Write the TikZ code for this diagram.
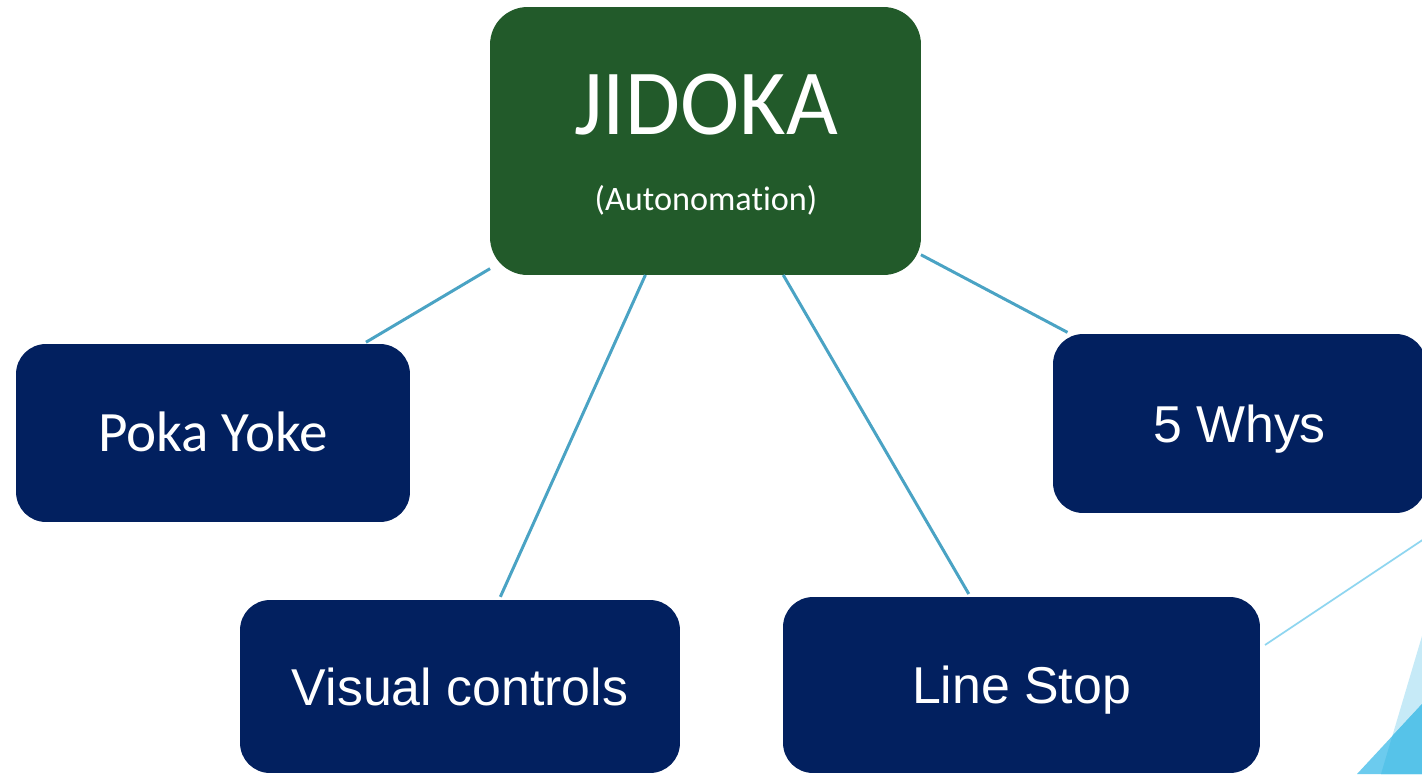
\documentclass[tikz,border=0pt]{standalone}
\usepackage{fontspec}
\setmainfont{Liberation Sans}
\newfontfamily\carlitofont[Ligatures=NoCommon]{Carlito}
\definecolor{jgreen}{HTML}{225A2A}
\definecolor{navyb}{HTML}{02205F}
\definecolor{connc}{HTML}{4AA3C4}
\definecolor{decoline}{HTML}{8FD6F0}
\definecolor{tripale}{HTML}{C6EAF7}
\definecolor{trimid}{HTML}{6CCBEE}
\definecolor{trideep}{HTML}{56C3E9}
\tikzset{
  boxnode/.style={rectangle, rounded corners=0.6cm, fill=navyb, inner sep=0pt, outer sep=0pt, text=white},
  mainbox/.style={rectangle, rounded corners=0.75cm, fill=jgreen, inner sep=0pt, outer sep=0pt},
  conn/.style={draw=connc, line width=1.7pt},
  armtext/.style={font=\fontsize{29.5}{32}\selectfont, text=white, text height=21.1pt, text depth=0pt},
}
\begin{document}
\begin{tikzpicture}[x=0.02cm,y=-0.02cm]
\useasboundingbox (0,0) rectangle (1422,774);
\fill[white] (0,0) rectangle (1422,774);
\clip (0,0) rectangle (1422,774);
% decorative background
\draw[decoline, line width=1pt] (1265,645) -- (1424,539);
\fill[tripale] (1422,636) -- (1381,774) -- (1422,774) -- cycle;
\fill[trimid] (1422,704) -- (1357,774) -- (1422,774) -- cycle;
\fill[trideep] (1392.3,736) -- (1381,774) -- (1422,774) -- (1422,704) -- cycle;
% boxes
\node[mainbox, minimum width=8.62cm, minimum height=5.36cm] (jidoka) at (705.5,141) {};
\node[anchor=base, text=white, font=\carlitofont\fontsize{53}{56}\selectfont] (jtitle) at (706,134) {\scalebox{0.96}[1]{JIDOKA}};
\node[anchor=base, text=white, font=\carlitofont\fontsize{19.5}{22}\selectfont] (jsub) at (706,210) {(Autonomation)};
\node[boxnode, minimum width=7.88cm, minimum height=3.56cm, font=\carlitofont\fontsize{32.5}{34}\selectfont, text height=20.9pt, text depth=0pt] (poka) at (213,433) {Poka Yoke};
\node[boxnode, armtext, minimum width=8.8cm, minimum height=3.46cm] (visual) at (460,686.5) {Visual controls};
\node[boxnode, armtext, minimum width=9.54cm, minimum height=3.52cm] (linestop) at (1021.5,685) {Line Stop};
\node[boxnode, armtext, minimum width=7.46cm, minimum height=3.58cm] (whys) at (1239.5,423.5) {5 Whys};
% connectors
\draw[conn, shorten >=2pt] (jidoka) -- (poka);
\draw[conn, shorten >=2pt] (jidoka) -- (visual);
\draw[conn, shorten >=2pt] (jidoka) -- (linestop);
\draw[conn, shorten >=2pt] (jidoka) -- (whys);
\end{tikzpicture}
\end{document}
